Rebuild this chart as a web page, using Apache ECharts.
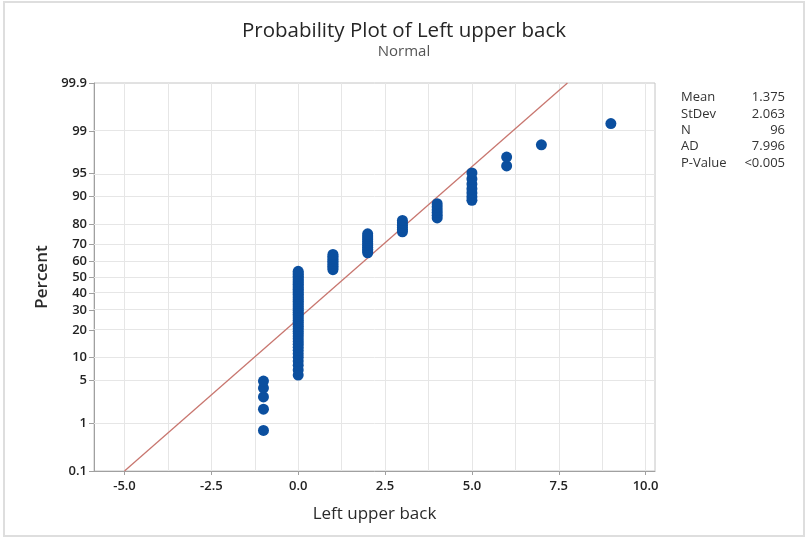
<!DOCTYPE html>
<html>
<head>
<meta charset="utf-8">
<script src="https://cdn.jsdelivr.net/npm/echarts@6/dist/echarts.min.js"></script>
<style>
  html, body { margin: 0; padding: 0; background: #fff; }
  #chart { width: 808px; height: 540px; }
</style>
</head>
<body>
<div id="chart"></div>
<script>
// Observed values of "Left upper back" and how many times each occurs (N = 96)
const obsValues = [-1, 0, 1, 2, 3, 4, 5, 6, 7, 9];
const obsCounts = [5, 47, 10, 11, 6, 6, 7, 2, 1, 1];

// Fitted normal parameters and summary table
const fitMean = 1.375;
const fitStDev = 2.063;
const statNames = ['Mean', 'StDev', 'N', 'AD', 'P-Value'];
const statValues = ['1.375', '2.063', '96', '7.996', '<0.005'];

// Axis ticks
const xTicks = [-5, -2.5, 0, 2.5, 5, 7.5, 10];
const xGrid = [-5, -3.75, -2.5, -1.25, 0, 1.25, 2.5, 3.75, 5, 6.25, 7.5, 8.75, 10];
const yTickPercents = [0.1, 1, 5, 10, 20, 30, 40, 50, 60, 70, 80, 90, 95, 99, 99.9];
const yTickLabels = ['0.1', '1', '5', '10', '20', '30', '40', '50', '60', '70', '80', '90', '95', '99', '99.9'];

const FONT = '"Open Sans", "Noto Sans", sans-serif';

// Inverse standard normal CDF (Acklam's rational approximation)
function invNorm(p) {
  const a = [-3.969683028665376e+01, 2.209460984245205e+02, -2.759285104469687e+02, 1.383577518672690e+02, -3.066479806614716e+01, 2.506628277459239e+00];
  const b = [-5.447609879822406e+01, 1.615858368580409e+02, -1.556989798598866e+02, 6.680131188771972e+01, -1.328068155288572e+01];
  const c = [-7.784894002430293e-03, -3.223964580411365e-01, -2.400758276161616e+00, -2.549671348283169e+00, 4.374664141464968e+00, 2.938163982698783e+00];
  const d = [7.784695709041462e-03, 3.224671290700398e-01, 2.445134137142996e+00, 3.754408661907416e+00];
  const pl = 0.02425, ph = 1 - pl;
  let q, r;
  if (p < pl) {
    q = Math.sqrt(-2 * Math.log(p));
    return (((((c[0]*q+c[1])*q+c[2])*q+c[3])*q+c[4])*q+c[5]) / ((((d[0]*q+d[1])*q+d[2])*q+d[3])*q+1);
  }
  if (p <= ph) {
    q = p - 0.5; r = q * q;
    return (((((a[0]*r+a[1])*r+a[2])*r+a[3])*r+a[4])*r+a[5])*q / (((((b[0]*r+b[1])*r+b[2])*r+b[3])*r+b[4])*r+1);
  }
  q = Math.sqrt(-2 * Math.log(1 - p));
  return -(((((c[0]*q+c[1])*q+c[2])*q+c[3])*q+c[4])*q+c[5]) / ((((d[0]*q+d[1])*q+d[2])*q+d[3])*q+1);
}

// Expand counts into sorted observations, plotted at median ranks (i - 0.3)/(n + 0.4)
const sorted = [];
obsValues.forEach((v, k) => { for (let j = 0; j < obsCounts[k]; j++) sorted.push(v); });
const n = sorted.length;
const points = sorted.map((v, i) => [v, invNorm((i + 1 - 0.3) / (n + 0.4))]);

const zMin = invNorm(0.001), zMax = invNorm(0.999);
// Keep the end ticks a hair inside the extent so their labels are kept
const yTickZ = yTickPercents.map(p => Math.min(zMax - 1e-7, Math.max(zMin + 1e-7, invNorm(p / 100))));

// Fitted line spans the percent range of the plot
const fitLine = [[fitMean + zMin * fitStDev, zMin], [fitMean + zMax * fitStDev, zMax]];

const gridColor = '#e6e6e6';
const gridLines = [];
xGrid.forEach(v => gridLines.push({ xAxis: v }));
yTickZ.slice(1, -1).forEach(z => gridLines.push({ yAxis: z }));

const chart = echarts.init(document.getElementById('chart'), null, { renderer: 'canvas' });

const statGraphics = [];
statNames.forEach((s, i) => {
  const y = 100 + i * 16.4;
  statGraphics.push({ type: 'text', left: 681, top: y - 9, style: { text: s, font: '13px ' + FONT, fill: '#333' } });
  statGraphics.push({ type: 'text', right: 23, top: y - 9, style: { text: statValues[i], font: '13px ' + FONT, fill: '#333', align: 'right' } });
});

chart.setOption({
  animation: false,
  backgroundColor: '#fff',
  title: {
    text: 'Probability Plot of Left upper back',
    subtext: 'Normal',
    left: 'center',
    top: 16,
    itemGap: 2,
    textStyle: { fontFamily: FONT, fontSize: 20.5, fontWeight: 'normal', color: '#262626' },
    subtextStyle: { fontFamily: FONT, fontSize: 15, color: '#555' }
  },
  grid: {
    left: 94, right: 153, top: 83, bottom: 69,
    show: true, borderColor: '#c4c4c4', borderWidth: 1, backgroundColor: 'transparent'
  },
  xAxis: {
    type: 'value',
    min: -5.878, max: 10.27,
    name: 'Left upper back',
    nameLocation: 'middle',
    nameGap: 35,
    nameTextStyle: { fontFamily: FONT, fontSize: 17, color: '#2a2a2a' },
    axisLine: { show: true, onZero: false, lineStyle: { color: '#a0a0a0', width: 1 } },
    axisTick: { show: true, customValues: xTicks, length: 4, lineStyle: { color: '#a0a0a0' } },
    axisLabel: {
      customValues: xTicks, margin: 9,
      fontFamily: FONT, fontSize: 13, fontWeight: 600, color: '#222',
      formatter: v => v.toFixed(1)
    },
    splitLine: { show: false }
  },
  yAxis: {
    type: 'value',
    min: zMin, max: zMax,
    name: 'Percent',
    nameLocation: 'middle',
    nameGap: 40,
    nameTextStyle: { fontFamily: FONT, fontSize: 17, fontWeight: 600, color: '#2a2a2a' },
    axisLine: { show: true, onZero: false, lineStyle: { color: '#a0a0a0', width: 1 } },
    axisTick: { show: true, customValues: yTickZ, length: 5, lineStyle: { color: '#a0a0a0' } },
    axisLabel: {
      customValues: yTickZ, margin: 7,
      fontFamily: FONT, fontSize: 13, fontWeight: 600, color: '#222',
      formatter: v => {
        let best = 0;
        yTickZ.forEach((z, i) => { if (Math.abs(z - v) < Math.abs(yTickZ[best] - v)) best = i; });
        return yTickLabels[best];
      }
    },
    splitLine: { show: false }
  },
  graphic: [
    { type: 'rect', shape: { x: 4, y: 2, width: 800, height: 534 }, style: { fill: 'none', stroke: '#dedede', lineWidth: 2 }, silent: true, z: -10 }
  ].concat(statGraphics),
  series: [
    {
      type: 'line', data: [], z: 1, silent: true,
      markLine: {
        z: 1,
        silent: true, symbol: 'none', animation: false,
        label: { show: false },
        lineStyle: { color: gridColor, width: 1, type: 'solid' },
        data: gridLines
      }
    },
    {
      type: 'line', data: fitLine, z: 2, silent: true,
      symbol: 'none', clip: true,
      lineStyle: { color: '#c8766f', width: 1.3 }
    },
    {
      type: 'scatter', data: points, z: 6,
      symbol: 'circle', symbolSize: 11,
      itemStyle: { color: '#0b4f9f', opacity: 1 }
    }
  ]
});
</script>
</body>
</html>
